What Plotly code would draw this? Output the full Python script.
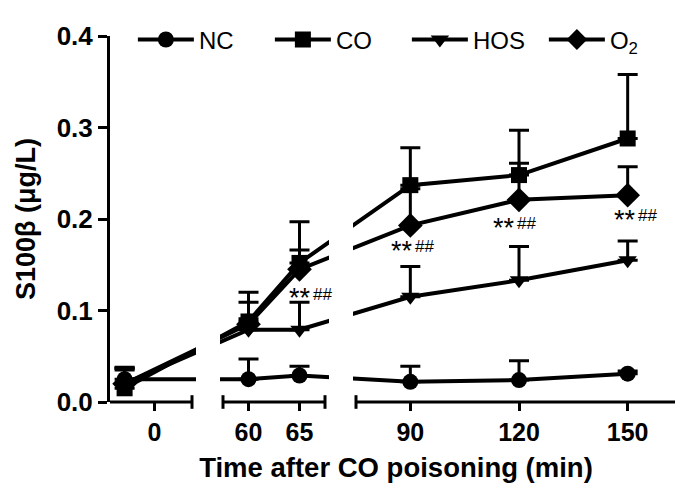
import plotly.graph_objects as go

# ---------------- data ----------------
time_min = [-8, 60, 65, 90, 120, 150]
tick_times = [0, 60, 65, 90, 120, 150]
tick_labels = ["0", "60", "65", "90", "120", "150"]

nc_mean = [0.025, 0.025, 0.029, 0.022, 0.024, 0.031]
nc_err = [0.012, 0.022, 0.010, 0.017, 0.021, 0.003]
co_mean = [0.015, 0.088, 0.152, 0.237, 0.248, 0.288]
co_err = [0.022, 0.032, 0.045, 0.041, 0.049, 0.070]
hos_mean = [0.020, 0.079, 0.079, 0.115, 0.133, 0.155]
hos_err = [0.018, 0.012, 0.030, 0.033, 0.037, 0.021]
o2_mean = [0.020, 0.085, 0.145, 0.193, 0.221, 0.226]
o2_err = [0.015, 0.024, 0.021, 0.040, 0.040, 0.031]

series_names = ["NC", "CO", "HOS", "O<sub>2</sub>"]

sig_times = [65, 90, 120, 150]
sig_stars = ["**", "**", "**", "**"]
sig_hash = ["##", "##", "##", "##"]

# ---------------- layout / broken axis ----------------
W, H = 683, 495
ML, MR, MT, MB = 102, 9, 18, 101
PW = W - ML - MR
PH = H - MT - MB

# (data range), (share of plot width) for each axis piece
SEGMENTS = [
    ((-11.9, 10.0), (0.0, 82 / PW)),
    ((57.5, 67.5), (113 / PW, 215 / PW)),
    ((75.0, 165.0), (246 / PW, 1.0)),
]


def to_axis(t):
    for (r0, r1), (d0, d1) in SEGMENTS:
        if r0 <= t <= r1:
            return d0 + (t - r0) / (r1 - r0) * (d1 - d0)
    raise ValueError(t)


FONT = "Liberation Sans, Arial, sans-serif"

styles = [
    dict(symbol="circle", size=16),
    dict(symbol="square", size=16),
    dict(symbol="triangle-down", size=16),
    dict(symbol="diamond", size=19),
]
means = [nc_mean, co_mean, hos_mean, o2_mean]
errs = [nc_err, co_err, hos_err, o2_err]

fig = go.Figure()
xs = [to_axis(t) for t in time_min]
for name, m, e, st in zip(series_names, means, errs, styles):
    fig.add_trace(go.Scatter(
        x=xs, y=m, name=name, mode="lines+markers",
        line=dict(color="black", width=4),
        marker=dict(color="black", symbol=st["symbol"], size=st["size"]),
        error_y=dict(type="data", array=e, arrayminus=[0] * len(e), symmetric=False,
                     color="black", thickness=3, width=10),
    ))

shapes = []
px = 1.0 / PW
# white masks over the breaks
for (ra, (a0, a1)), (rb, (b0, b1)) in zip(SEGMENTS[:-1], SEGMENTS[1:]):
    shapes.append(dict(type="rect", xref="paper", yref="paper",
                       x0=a1 + 4 * px, x1=b0 - 3 * px, y0=0.004, y1=0.85,
                       fillcolor="white", line=dict(width=0), layer="above"))
# axis pieces with end caps
cap = 7 / PH
for i, ((r0, r1), (d0, d1)) in enumerate(SEGMENTS):
    shapes.append(dict(type="line", xref="paper", yref="paper", x0=d0, x1=d1, y0=0, y1=0,
                       line=dict(color="black", width=3), layer="above"))
    ends = [d1] if i == 0 else [d0, d1]
    for d in ends:
        shapes.append(dict(type="line", xref="paper", yref="paper", x0=d, x1=d,
                           y0=-cap, y1=cap, line=dict(color="black", width=3), layer="above"))

sig_y = [0.120, 0.172, 0.197, 0.206]
sig_dx = [12, 4, -3, 9]
annotations = []
for t, s, hsh, yv, dx in zip(sig_times, sig_stars, sig_hash, sig_y, sig_dx):
    annotations.append(dict(
        x=to_axis(t), y=yv, xref="x", yref="y", xshift=dx + 1, yshift=-6,
        text=s, showarrow=False, font=dict(family=FONT, size=27, color="black"),
        xanchor="right", yanchor="middle"))
    annotations.append(dict(
        x=to_axis(t), y=yv, xref="x", yref="y", xshift=dx - 1, yshift=-2,
        text=hsh, showarrow=False, font=dict(family=FONT, size=17, color="black"),
        xanchor="left", yanchor="middle"))

fig.update_layout(
    width=W, height=H,
    margin=dict(l=ML, r=MR, t=MT, b=MB),
    plot_bgcolor="white", paper_bgcolor="white",
    font=dict(family=FONT, color="black"),
    showlegend=True,
    legend=dict(orientation="h", x=0.04, y=(394 - 22) / (394 - MT), xanchor="left",
                yanchor="middle",
                font=dict(family=FONT, size=24, color="black"),
                itemwidth=56, entrywidth=66, entrywidthmode="pixels",
                bgcolor="rgba(0,0,0,0)", traceorder="normal"),
    shapes=shapes,
    annotations=annotations,
)
fig.update_xaxes(
    range=[0, 1], showline=False, showgrid=False, zeroline=False,
    tickvals=[to_axis(t) for t in tick_times], ticktext=tick_labels,
    ticks="outside", ticklen=8, tickwidth=3, tickcolor="black",
    tickfont=dict(family=FONT, size=25, color="black", weight="bold"),
    title=dict(text="Time after CO poisoning (min)", standoff=12,
               font=dict(family=FONT, size=27.5, color="black", weight="bold")),
)
fig.update_yaxes(
    range=[0, 0.4], showline=True, linewidth=3, linecolor="black",
    showgrid=False, zeroline=False,
    tickvals=[0, 0.1, 0.2, 0.3, 0.4], tickformat=".1f",
    ticks="outside", ticklen=9, tickwidth=3, tickcolor="black",
    tickfont=dict(family=FONT, size=26, color="black", weight="bold"),
    title=dict(text="S100β (μg/L)", standoff=14,
               font=dict(family=FONT, size=27, color="black", weight="bold")),
)

fig.write_html("out.html")
